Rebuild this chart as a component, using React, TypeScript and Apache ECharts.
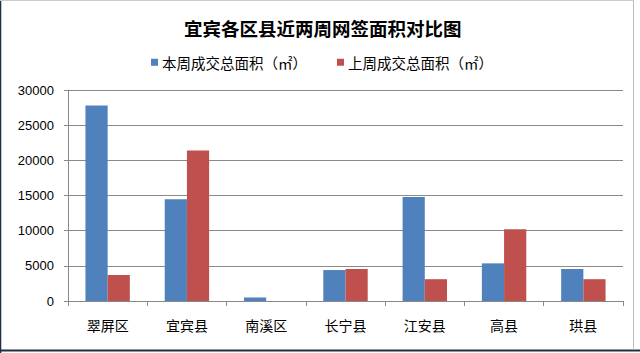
import React, { useEffect, useRef } from "react";
import * as echarts from "echarts";

const categories = ["翠屏区", "宜宾县", "南溪区", "长宁县", "江安县", "高县", "珙县"];
const thisWeek = [27800, 14450, 500, 4400, 14800, 5350, 4550];
const lastWeek = [3700, 21400, 0, 4550, 3100, 10200, 3100];
const seriesNames = ["本周成交总面积（㎡）", "上周成交总面积（㎡）"];
const titleText = "宜宾各区县近两周网签面积对比图";

const FONT = "'Noto Sans CJK SC', 'Liberation Sans', sans-serif";

export default function App() {
  const ref = useRef<HTMLDivElement>(null);
  useEffect(() => {
    document.body.style.margin = "0";
    const chart = echarts.init(ref.current!, null, { renderer: "svg" });
    chart.setOption({
      animation: false,
      backgroundColor: "#ffffff",
      title: {
        text: titleText,
        left: 179,
        top: 13,
        textStyle: { fontSize: 18.5, fontWeight: "bold", color: "#000", fontFamily: FONT, lineHeight: 20 },
      },
      legend: {
        left: 146,
        top: 50,
        itemWidth: 7,
        itemHeight: 7,
        itemGap: 30,
        icon: "rect",
        textStyle: { fontSize: 14.5, color: "#000", fontFamily: FONT, padding: [0, 0, 0, -1] },
        data: seriesNames,
      },
      grid: { left: 68, right: 17, top: 90, bottom: 52 },
      xAxis: {
        type: "category",
        data: categories,
        axisLine: { lineStyle: { color: "#888" } },
        axisTick: { show: true, length: 5, lineStyle: { color: "#888" } },
        axisLabel: { fontSize: 14, color: "#000", margin: 17, fontFamily: FONT },
      },
      yAxis: {
        type: "value",
        min: 0,
        max: 30000,
        interval: 5000,
        axisLine: { show: true, lineStyle: { color: "#888" } },
        axisTick: { show: true, length: 4, lineStyle: { color: "#888" } },
        axisLabel: {
          fontSize: 13,
          color: "#000",
          margin: 14,
          fontFamily: "'Liberation Sans', sans-serif",
          formatter: (v: number) => String(v),
        },
        splitLine: { lineStyle: { color: "#8a8a8a", width: 1 } },
      },
      series: [
        {
          name: seriesNames[0],
          type: "bar",
          data: thisWeek,
          itemStyle: { color: "#4F81BD" },
          barGap: "0%",
          barCategoryGap: "44%",
        },
        {
          name: seriesNames[1],
          type: "bar",
          data: lastWeek,
          itemStyle: { color: "#C0504D" },
          barGap: "0%",
          barCategoryGap: "44%",
        },
      ],
      graphic: [
        { type: "line", shape: { x1: 0.5, y1: 0, x2: 0.5, y2: 353 }, style: { stroke: "#1f2f3f", lineWidth: 1.5 } },
        { type: "line", shape: { x1: 0, y1: 350.5, x2: 640, y2: 350.5 }, style: { stroke: "#1f2f3f", lineWidth: 2 } },
        { type: "line", shape: { x1: 633.5, y1: 0, x2: 633.5, y2: 350 }, style: { stroke: "#bbbbbb", lineWidth: 1 } },
        { type: "line", shape: { x1: 0, y1: 0.5, x2: 634, y2: 0.5 }, style: { stroke: "#cccccc", lineWidth: 1 } },
      ],
    });
    return () => chart.dispose();
  }, []);
  return (
    <div
      ref={ref}
      style={{ position: "fixed", left: 0, top: 0, width: 640, height: 353 }}
    />
  );
}
